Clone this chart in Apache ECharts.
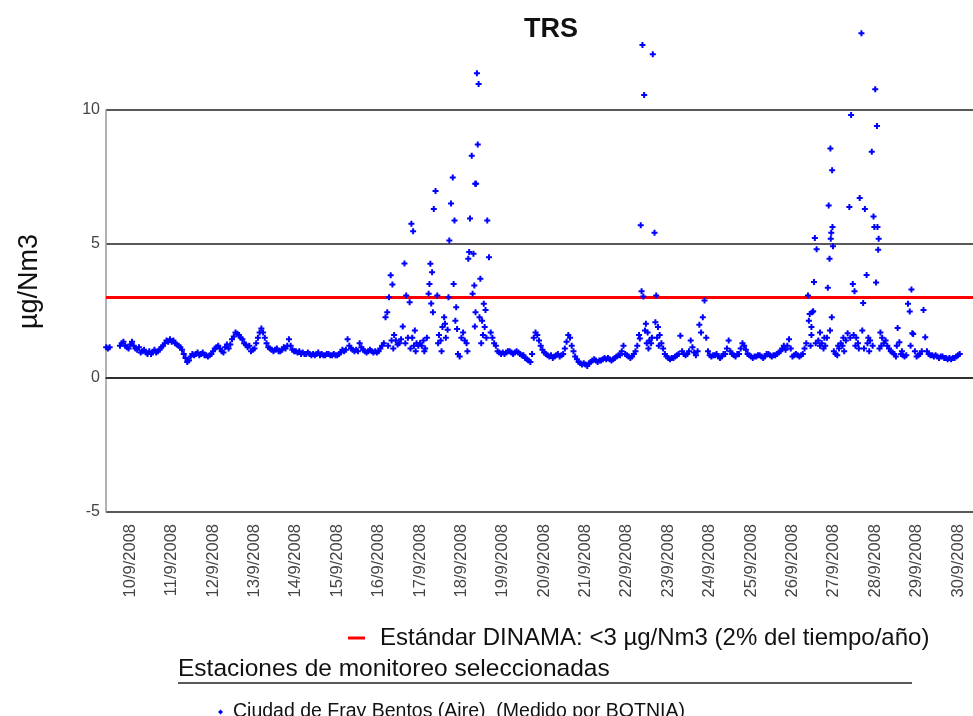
<!DOCTYPE html>
<html>
<head>
<meta charset="utf-8">
<script src="https://cdn.jsdelivr.net/npm/echarts@6/dist/echarts.min.js"></script>
<style>
  html, body { margin: 0; padding: 0; background: #fff; }
  #chart { width: 973px; height: 716px; }
</style>
</head>
<body>
<div id="chart"></div>
<script>
// hourly TRS readings (µg/Nm3), one array per day, hour 0..23
var sep09 = [1.15, 1.1, 1.15, null, null, null, null, null, 1.2, 1.3, 1.35, 1.2, 1.15, 1.1]; // from 10:00
var sep10 = [1.25, 1.35, 1.2, 1.1, 1.05, 1.15, 0.95, 1.0, 1.05, 0.95, 0.9, 1.0, 0.9, 0.95, 1.05, 0.95, 1.0, 1.05, 1.15, 1.2, 1.3, 1.4, 1.35, 1.45];
var sep11 = [1.35, 1.4, 1.3, 1.25, 1.2, 1.15, 1.05, 0.9, 0.75, 0.6, 0.65, 0.8, 0.9, 0.85, 0.9, 0.95, 0.85, 0.9, 0.95, 0.85, 0.85, 0.8, 0.85, 0.9];
var sep12 = [1.0, 1.1, 1.15, 1.2, 1.1, 1.0, 0.95, 1.15, 1.25, 1.1, 1.25, 1.45, 1.55, 1.7, 1.65, 1.6, 1.5, 1.45, 1.3, 1.25, 1.15, 1.2, 1.0, 1.05];
var sep13 = [1.1, 1.3, 1.5, 1.7, 1.85, 1.7, 1.5, 1.3, 1.15, 1.1, 1.05, 1.0, 1.05, 1.1, 1.0, 1.0, 1.05, 1.15, 1.1, 1.2, 1.45, 1.2, 1.05, 1.0];
var sep14 = [1.0, 0.95, 1.0, 0.9, 0.95, 0.9, 0.9, 0.95, 0.9, 0.85, 0.9, 0.85, 0.9, 0.95, 0.85, 0.9, 0.85, 0.85, 0.9, 0.9, 0.85, 0.85, 0.9, 0.85];
var sep15 = [0.85, 0.9, 0.95, 1.05, 1.0, 1.05, 1.45, 1.2, 1.1, 1.05, 1.0, 1.05, 1.0, 1.3, 1.15, 1.05, 1.0, 0.95, 1.0, 1.05, 1.0, 0.95, 1.0, 0.95];
var sep16 = [1.0, 1.1, 1.2, 1.3, 2.27, 2.45, 3.01, 3.83, 3.49, 1.6, 1.4, 1.25, 1.3, 1.45, 1.92, 4.27, 3.08, 1.5, 2.83, 5.76, 5.48, 1.77, 1.3, 1.2];
var sep17 = [1.3, 1.2, 1.4, 1.1, 1.5, 3.14, 4.26, 3.95, 6.31, 6.98, 3.08, 1.6, 1.4, 1.9, 2.27, 1.5, 1.8, 5.13, 6.51, 7.48, 5.88, 2.64, 0.9, 0.8];
var sep18 = [1.5, 1.7, 1.4, 1.3, 4.45, 5.95, 8.29, 4.64, 7.25, 11.37, 10.97, 3.7, 2.14, 2.77, 2.54, 5.88, 4.51, 1.7, 1.5, 1.3, 1.2, 1.0, 0.95, 0.9];
var sep19 = [0.95, 0.9, 0.95, 1.0, 1.0, 0.95, 0.9, 0.95, 1.0, 0.95, 0.9, 0.85, 0.85, 0.75, 0.7, 0.65, 0.6, 0.9, 1.5, 1.7, 1.6, 1.4, 1.2, 1.05];
var sep20 = [0.95, 0.9, 0.85, 0.8, 0.85, 0.75, 0.8, 0.85, 0.9, 0.8, 0.85, 0.9, 1.1, 1.35, 1.6, 1.5, 1.2, 1.0, 0.8, 0.7, 0.6, 0.55, 0.5, 0.55];
var sep21 = [0.5, 0.45, 0.55, 0.6, 0.65, 0.7, 0.65, 0.6, 0.65, 0.65, 0.7, 0.75, 0.7, 0.75, 0.7, 0.65, 0.7, 0.75, 0.8, 0.85, 0.85, 1.0, 1.2, 0.9];
var sep22 = [0.85, 0.8, 0.75, 0.8, 0.9, 1.0, 1.2, 1.6, 5.7, 12.43, 10.56, 2.02, 1.7, 1.4, 1.3, 12.08, 5.42, 3.08, 1.9, 1.6, 1.3, 1.1, 0.9, 0.8];
var sep23 = [0.75, 0.7, 0.75, 0.75, 0.8, 0.85, 0.9, 1.58, 1.0, 0.9, 0.85, 0.9, 1.0, 1.4, 1.15, 0.95, 0.85, 1.0, 1.99, 1.7, 2.27, 2.89, 1.5, 1.0];
var sep24 = [0.85, 0.8, 0.85, 0.85, 0.9, 0.8, 0.75, 0.8, 0.9, 0.9, 1.1, 1.4, 1.0, 0.9, 0.85, 0.8, 0.9, 0.9, 1.1, 1.3, 1.2, 1.05, 0.9, 0.85];
var sep25 = [0.8, 0.75, 0.8, 0.8, 0.85, 0.85, 0.8, 0.75, 0.8, 0.9, 0.9, 0.85, 0.8, 0.85, 0.85, 0.9, 0.95, 1.0, 1.1, 1.2, 1.05, 1.2, 1.45, 1.1];
var sep26 = [0.8, 0.85, 0.9, 0.85, 0.8, 0.85, 0.9, 1.1, 1.3, 3.08, 2.39, 1.6, 2.49, 5.22, 4.8, 1.4, 1.2, 1.3, 1.1, 1.2, 1.5, 6.44, 8.56, 7.75];
var sep27 = [1.0, 0.9, 0.85, 1.1, 1.3, 1.2, 1.0, 1.4, 1.67, 6.38, 9.81, 3.51, 3.24, 1.5, 1.3, 6.72, 12.86, 2.8, 6.31, 3.84, 1.5, 1.4, 8.44, 6.03];
var sep28 = [10.77, 9.4, 5.2, 1.7, 1.5, 1.3, 1.4, 1.2, 1.1, 1.0, 0.95, 0.9, 0.8, 1.87, 1.33, 0.9, 0.85, 0.8, 0.85, 2.77, 2.48, 3.3, 1.64, 1.0];
var sep29 = [0.8, 0.85, 0.9, 1.0, 2.54, 1.52, 1.0, 0.9, 0.85, 0.85, 0.8, 0.85, 0.8, 0.75, 0.8, 0.8, 0.75, 0.75, 0.7, 0.75, 0.7, 0.75, 0.75, 0.8];
var sep30 = [0.85, 0.9];

// extra readings in between the hours: [day, hour, value]
var extraReadings = [
  [16, 5.5, 1.2], [16, 7.5, 1.4], [16, 8.5, 1.1], [16, 15.5, 1.3], [16, 18.5, 1.1], [16, 19.5, 1.5], [16, 20.5, 1.2], [16, 21.5, 1.0],
  [17, 5.5, 3.51], [17, 6.5, 2.78], [17, 7.5, 2.45], [17, 14.5, 2.02], [17, 16.5, 3.01], [17, 19.5, 3.51], [17, 20.5, 2.14], [17, 21.5, 1.83],
  [17, 2.5, 1.0], [17, 10.5, 1.3], [17, 12.5, 1.0],
  [18, 4.5, 4.7], [18, 6.5, 3.14], [18, 7.5, 3.45], [18, 7.8, 1.92], [18, 8.5, 7.25], [18, 9.5, 8.71], [18, 10.5, 2.27], [18, 8.2, 2.45],
  [18, 12.5, 1.6], [18, 13.5, 1.9], [18, 14.5, 1.5], [18, 11.5, 1.3], [18, 3.5, 1.0],
  [22, 8.5, 3.24], [22, 9.5, 3.04], [22, 10.5, 1.77], [22, 7.5, 1.47], [22, 16.5, 2.08], [22, 17.5, 1.5], [22, 11.5, 1.3], [22, 18.5, 1.2],
  [22, 14.5, 1.5], [22, 12.5, 1.1],
  [26, 9.5, 2.14], [26, 12.5, 3.58], [26, 11.5, 2.45], [26, 20.5, 3.37], [26, 21.5, 4.45], [26, 22.5, 5.42], [26, 22.2, 5.2], [26, 23.2, 5.63],
  [26, 23.5, 4.92], [26, 22.8, 2.27], [26, 21.8, 1.77], [26, 11, 1.9], [26, 16, 1.7], [26, 13.5, 1.3], [26, 18.5, 1.5], [26, 10.5, 1.2],
  [27, 11.5, 1.6], [27, 16.5, 1.77], [27, 12.5, 1.2], [27, 19.5, 1.3], [27, 17.5, 1.1], [27, 9.5, 1.5], [27, 14.5, 1.1], [27, 20.5, 1.0],
  [27, 22.5, 1.2], [27, 5.5, 1.5], [27, 2.5, 1.2], [27, 23.5, 5.63],
  [28, 0.5, 3.56], [28, 1.3, 5.63], [28, 1.7, 4.79], [28, 2.5, 1.1], [28, 3.5, 1.2], [28, 20.5, 1.2], [28, 21.5, 1.67], [28, 12.5, 1.2], [28, 15.5, 1.0]
];

var dayLabels = ["10/9/2008", "11/9/2008", "12/9/2008", "13/9/2008", "14/9/2008", "15/9/2008", "16/9/2008",
  "17/9/2008", "18/9/2008", "19/9/2008", "20/9/2008", "21/9/2008", "22/9/2008", "23/9/2008", "24/9/2008",
  "25/9/2008", "26/9/2008", "27/9/2008", "28/9/2008", "29/9/2008", "30/9/2008"];
var standard = 3;

var stationName = "Ciudad de Fray Bentos (Aire)  (Medido por BOTNIA)";
var standardName = "Estándar DINAMA: <3 µg/Nm3 (2% del tiempo/año)";

// x = hours since 10/9/2008 00:00
var xMin = -14.1, xMax = 488.7;

var points = [];
function addDay(values, day, firstHour) {
  values.forEach(function (v, i) {
    if (v != null) points.push([(day - 10) * 24 + firstHour + i, v]);
  });
}
addDay(sep09, 9, 10);
[sep10, sep11, sep12, sep13, sep14, sep15, sep16, sep17, sep18, sep19, sep20,
 sep21, sep22, sep23, sep24, sep25, sep26, sep27, sep28, sep29, sep30].forEach(function (d, i) {
  addDay(d, 10 + i, 0);
});
extraReadings.forEach(function (r) {
  points.push([(r[0] - 10) * 24 + r[1], r[2]]);
});

var dayTicks = dayLabels.map(function (_, i) { return i * 24; });

var font = "Liberation Sans, Arial, sans-serif";
var chart = echarts.init(document.getElementById("chart"));

chart.setOption({
  animation: false,
  textStyle: { fontFamily: font },
  title: {
    text: "TRS",
    left: 546,
    top: 11,
    textAlign: "center",
    textStyle: { fontSize: 27, fontWeight: "bold", color: "#111", fontFamily: font }
  },
  grid: { left: 106, right: 0, top: 110, bottom: 204 },
  xAxis: {
    type: "value",
    min: xMin,
    max: xMax,
    splitLine: { show: false },
    axisTick: { show: false },
    axisLine: { show: true, lineStyle: { color: "#222", width: 1.5 } },
    axisLabel: {
      customValues: dayTicks,
      rotate: 90,
      margin: 12,
      fontSize: 16.5,
      color: "#444",
      formatter: function (v) { return dayLabels[Math.round(v / 24)]; }
    }
  },
  yAxis: {
    type: "value",
    min: -5,
    max: 10,
    interval: 5,
    axisLine: { show: true, onZero: false, lineStyle: { color: "#999", width: 1.5 } },
    axisTick: { show: false },
    splitLine: { show: true, lineStyle: { color: "#222", width: 1.5 } },
    axisLabel: { fontSize: 16, color: "#444", margin: 6 }
  },
  legend: [
    {
      data: [standardName],
      left: 343,
      top: 621,
      icon: "rect",
      itemWidth: 17,
      itemHeight: 3,
      textStyle: { fontSize: 24, color: "#111", fontFamily: font, padding: [0, 0, 0, 10] }
    },
    {
      data: [stationName],
      left: 213,
      top: 697,
      icon: "diamond",
      itemWidth: 5,
      itemHeight: 5,
      textStyle: { fontSize: 19.5, color: "#111", fontFamily: font, padding: [0, 0, 0, 5] }
    }
  ],
  graphic: [
    {
      type: "text",
      left: 16,
      top: 234,
      rotation: Math.PI / 2,
      style: { text: "µg/Nm3", fill: "#111", font: "27px " + font }
    },
    {
      type: "text",
      left: 178,
      top: 657,
      style: { text: "Estaciones de monitoreo seleccionadas", fill: "#111", font: "24.5px " + font }
    },
    {
      type: "line",
      shape: { x1: 178, y1: 683, x2: 912, y2: 683 },
      style: { stroke: "#222", lineWidth: 1.5 }
    }
  ],
  series: [
    {
      name: standardName,
      type: "line",
      data: [[xMin, standard], [xMax, standard]],
      showSymbol: false,
      symbol: "none",
      lineStyle: { color: "#ff0000", width: 3 },
      itemStyle: { color: "#ff0000" },
      z: 3
    },
    {
      name: stationName,
      type: "scatter",
      data: points,
      clip: false,
      symbol: "path://M2,0L4,0L4,2L6,2L6,4L4,4L4,6L2,6L2,4L0,4L0,2L2,2Z",
      symbolSize: 6,
      itemStyle: { color: "#0000ff", opacity: 1 },
      z: 4
    }
  ]
});
</script>
</body>
</html>
